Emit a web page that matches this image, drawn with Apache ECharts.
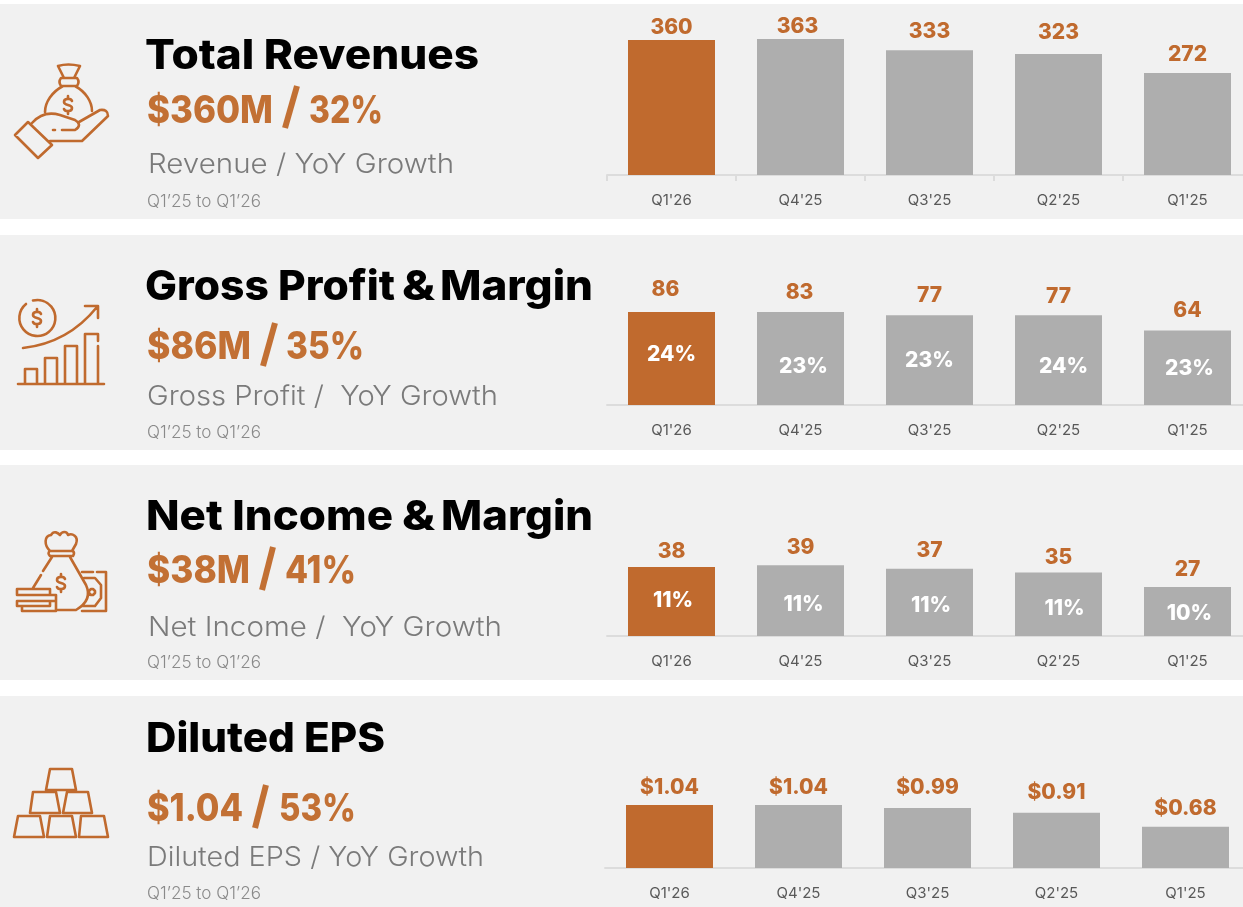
<!DOCTYPE html>
<html><head><meta charset="utf-8">
<style>html,body{margin:0;padding:0;background:#fff}#c{width:1243px;height:907px}</style>
<script src="https://cdn.jsdelivr.net/npm/echarts@6/dist/echarts.min.js"></script>
</head><body><div id="c"></div>
<script>
// ---- data ----
const quarters = ["Q1'26", "Q4'25", "Q3'25", "Q2'25", "Q1'25"];
const revenue = [360, 363, 333, 323, 272];
const grossProfitLabels = [86, 83, 77, 77, 64];
const grossProfitBarLevels = [86, 86, 83, 83, 69]; // bar heights as drawn in the picture
const grossMargin = ["24%", "23%", "23%", "24%", "23%"];
const netIncome = [38, 39, 37, 35, 27];
const netMargin = ["11%", "11%", "11%", "11%", "10%"];
const eps = [1.04, 1.04, 0.99, 0.91, 0.68];
const epsLabels = ["$1.04", "$1.04", "$0.99", "$0.91", "$0.68"];

// ---- style / layout ----
const ORANGE = '#c06a2e', KPI = '#c27034', GRAY = '#aeaeae', PANEL = '#f1f1f1', AXIS = '#dcdcdc';
const TITLE_FONT = '800 41px Inter', KPI_FONT = '800 38px Inter', SUB_FONT = '300 27px Inter', PER_FONT = '300 17px Inter';
const LABEL_NUDGE = 1;

const panels = [
  { top: 4, h: 215, grid: {left: 607, top: 25, height: 150}, max: 400, ticks: true,
    bars: revenue, labels: revenue,
    off: [[0,-2.5],[-3,-3],[0,-8.8],[0,-11.2],[0,-9.2]],
    title: [["Total Revenues",145,479]], titleBase: 68.5,
    kpi: [["$360M",147,273],["32%",309,383]], kpiBase: 123, slash: [285,128,297,86],
    sub: ["Revenue / YoY Growth",148,454], subBase: 173, perBase: 207 },
  { top: 235, h: 215, grid: {left: 607, top: 297, height: 108}, max: 100,
    bars: grossProfitBarLevels, labels: grossProfitLabels, inner: grossMargin,
    off: [[-6,-13.2],[-1,-9.8],[0,-9.8],[0,-9.5],[0,-10.5]],
    inOff: [[0,-4.7],[3,7],[0,0],[5,6],[2,-0.3]],
    title: [["Gross Profit",145,395],["&",402,435],["Margin",440,593]], titleBase: 300,
    kpi: [["$86M",147,251],["35%",286,364]], kpiBase: 359, slash: [263,366,275,323],
    sub: ["Gross Profit /  YoY Growth",147,498], subBase: 405, perBase: 438 },
  { top: 465, h: 215, grid: {left: 607, top: 545.2, height: 90.8}, max: 50,
    bars: netIncome, labels: netIncome, inner: netMargin,
    off: [[0,-5.8],[0,-7.8],[0,-8.5],[0,-5.5],[0,-8.2]],
    inOff: [[1.5,-1.7],[3,2.7],[1.5,2.7],[6,3.8],[2,1]],
    title: [["Net Income",146,393],["&",402,435],["Margin",441,593]], titleBase: 530,
    kpi: [["$38M",147,250],["41%",285,356]], kpiBase: 583, slash: [262,590,273,547],
    sub: ["Net Income /  YoY Growth",148,502], subBase: 636, perBase: 668 },
  { top: 696, h: 211, grid: {left: 605, top: 792.25, height: 75.75}, max: 1.25,
    bars: eps, labels: epsLabels,
    off: [[0,-7.8],[0,-8.1],[0,-11.3],[0,-10.8],[0,-8.2]],
    title: [["Diluted EPS",146,385]], titleBase: 752,
    kpi: [["$1.04",147,243],["53%",279,356]], kpiBase: 821, slash: [255,828,266,785],
    sub: ["Diluted EPS / YoY Growth",147,484], subBase: 866, perBase: 899 }
];

const ctx = document.createElement('canvas').getContext('2d');
function fitText(str, x0, x1, base, font, size, fill) {
  ctx.font = font;
  const w = ctx.measureText(str).width;
  return { type: 'text', x: x0, y: base, scaleX: (x1 - x0) / w, silent: true,
    style: { text: str, x: 0, y: -size * 0.3, font, fill, align: 'left', verticalAlign: 'middle' } };
}
const dollar = (x, y) => `M${x+4},${y-4} C${x+3},${y-7} ${x-4},${y-7} ${x-4},${y-3} C${x-4},${y+1} ${x+4},${y-1} ${x+4},${y+3} C${x+4},${y+7} ${x-3},${y+7} ${x-4},${y+4} M${x},${y-9} L${x},${y-6.5} M${x},${y+6.5} L${x},${y+9}`;
const iconPaths = [
  // hand with money bag
  'M58,66 Q68,63 80,66 L74,78 L64,78 Z M61,78 L77,78 Q80,82 77,86 L61,86 Q58,82 61,78 Z ' +
  'M63,86 C52,92 45,102 45,112 M75,86 C86,92 92,102 92,111 ' + dollar(68,105) +
  ' M15,135 L28,122 L52,145 L38,158 Z ' +
  'M32,123 C40,114 50,112 60,115 L75,120 Q83,125 75,130 L62,130 M79,122 L100,110 Q108,109 108,116 L82,141 L50,141 M53,130 L55,130',
  // growth chart
  'M26,304 A18,18 0 1 0 33,300.5 ' + dollar(37,318) +
  ' M23,348 Q68,343 97,307 M85,306 L98,306 L98,318 M18,384 L104,384 ' +
  'M25,384 L25,369 L37,369 L37,384 M45,384 L45,358 L57,358 L57,384 M65,384 L65,346 L77,346 L77,384 ' +
  'M85,384 L85,334 L98,334 L98,341 M98,346 L98,384',
  // money bag, coins, note
  'M50,551 C44,545 44,536 51,535 C54,530 58,533 60,535 C62,531 67,531 68,535 C72,533 79,536 76,544 L72,551 ' +
  'M50,551 L73,551 Q75,553 73,556 L50,556 Q47,553 50,551 Z M52,557 L43,571 M41,575 L33,588 M70,557 L86,585 Q93,600 76,610 L56,610 ' +
  dollar(61,583) + ' M82,572 L93,572 M97,572 L106,572 L106,611 L82,611 M84,578 L95,578 L101,585 L101,598 L95,606 L83,606 ' +
  'M89,592 L89,591 L91,589 L93,589 L95,591 L95,593 L93,595 L91,595 L89,593 Z ' +
  'M17,589 L50,589 L50,595 L17,595 Z M35,595 L56,595 L56,601 L40,601 M17,601 L50,601 L50,606 L17,606 Z M22,606 L22,611 L56,611 L56,601',
  // gold bars
  'M50,769 L72,769 L76,790 L46,790 Z M33,792 L56,792 L60,813 L30,813 Z M67,792 L88,792 L92,813 L63,813 Z ' +
  'M18,816 L40,816 L44,837 L14,837 Z M50,816 L72,816 L76,837 L47,837 Z M81,816 L104,816 L108,837 L79,837 Z'
];
iconPaths.forEach((d, i) => echarts.graphic.registerShape('iconShape' + i, echarts.graphic.extendPath(d, {})));

const nudge = o => [o[0], o[1] + LABEL_NUDGE];
const grids = [], xAxis = [], yAxis = [], series = [], graphic = [];
panels.forEach((p, i) => {
  graphic.push({ type: 'rect', z: -10, silent: true, shape: { x: 0, y: p.top, width: 1243, height: p.h }, style: { fill: PANEL } });
  p.title.forEach(t => graphic.push(fitText(t[0], t[1], t[2], p.titleBase, TITLE_FONT, 41, '#000')));
  p.kpi.forEach(t => graphic.push(fitText(t[0], t[1], t[2], p.kpiBase, KPI_FONT, 38, KPI)));
  graphic.push({ type: 'line', silent: true, shape: { x1: p.slash[0], y1: p.slash[1], x2: p.slash[2], y2: p.slash[3] }, style: { stroke: KPI, lineWidth: 6 } });
  graphic.push(fitText(p.sub[0], p.sub[1], p.sub[2], p.subBase, SUB_FONT, 27, '#7a7a7a'));
  graphic.push(fitText("Q1\u201925 to Q1\u201926", 147, 261, p.perBase, PER_FONT, 17, '#8a8a8a'));
  graphic.push({ type: 'iconShape' + i, silent: true, style: { fill: 'none', stroke: ORANGE, lineWidth: 2.6, lineCap: 'round', lineJoin: 'round' } });

  grids.push({ left: p.grid.left, top: p.grid.top, width: 645, height: p.grid.height, containLabel: false, outerBoundsMode: 'none' });
  xAxis.push({ type: 'category', gridIndex: i, data: quarters,
    axisLine: { show: true, lineStyle: { color: AXIS, width: 2 } },
    axisTick: { show: !!p.ticks, length: 6, lineStyle: { color: AXIS, width: 2 } },
    axisLabel: { color: '#595959', fontFamily: 'Inter', fontSize: 15, margin: 18 } });
  yAxis.push({ type: 'value', gridIndex: i, min: 0, max: p.max, show: false, splitLine: { show: false } });
  series.push({ type: 'bar', xAxisIndex: i, yAxisIndex: i, barWidth: 87, silent: true,
    data: p.bars.map((v, k) => ({ value: v, itemStyle: { color: k === 0 ? ORANGE : GRAY },
      label: { offset: nudge(p.off[k]), formatter: String(p.labels[k]) } })),
    label: { show: true, position: 'top', distance: 0, color: ORANGE, fontFamily: 'Inter', fontWeight: 800, fontSize: 21 } });
  if (p.inner) series.push({ type: 'bar', xAxisIndex: i, yAxisIndex: i, barWidth: 87, barGap: '-100%', silent: true,
    data: p.bars.map((v, k) => ({ value: v, itemStyle: { color: 'rgba(0,0,0,0)' },
      label: { offset: nudge(p.inOff[k]), formatter: p.inner[k] } })),
    label: { show: true, position: 'inside', color: '#fff', fontFamily: 'Inter', fontWeight: 800, fontSize: 21 } });
});

const chart = echarts.init(document.getElementById('c'), null, { renderer: 'canvas', width: 1243, height: 907 });
chart.setOption({ animation: false, backgroundColor: '#fff', grid: grids, xAxis, yAxis, series, graphic: { elements: graphic } });
</script></body></html>
